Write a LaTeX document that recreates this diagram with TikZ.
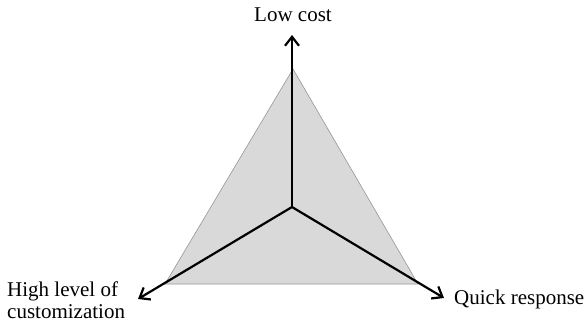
\documentclass[tikz,border=0pt]{standalone}
\usepackage{fontspec}
\setmainfont{Liberation Serif}
\usetikzlibrary{arrows.meta}
\begin{document}
\begin{tikzpicture}[x=1pt,y=-1pt,
  axis/.style={line width=2.2pt,-{Straight Barb[length=9pt,width=14pt,line width=2.2pt]}},
  lbl/.style={font=\fontsize{21}{23}\selectfont,inner sep=0pt}]
\useasboundingbox (0,0) rectangle (584,326);
\coordinate (o) at (292,207);
\coordinate (t1) at (293,69);
\coordinate (t2) at (165,284);
\coordinate (t3) at (418,284);
\fill[fill={rgb,255:red,217;green,217;blue,217}, draw={rgb,255:red,150;green,150;blue,150}, line width=0.6pt] (t1) -- (t2) -- (t3) -- cycle;
\coordinate (a1) at (292,35);
\coordinate (a2) at (138,299);
\coordinate (a3) at (444,298);
\draw[axis] (o) -- (a1);
\draw[axis] (o) -- (a2);
\draw[axis] (o) -- (a3);
\node[lbl] (l1) at (293,15) {Low cost};
\node[lbl,anchor=west,align=left] (l2) at (7,300) {High level of\\[-1pt]customization};
\node[lbl,anchor=west] (l3) at (454,299) {Quick response};
\end{tikzpicture}
\end{document}
